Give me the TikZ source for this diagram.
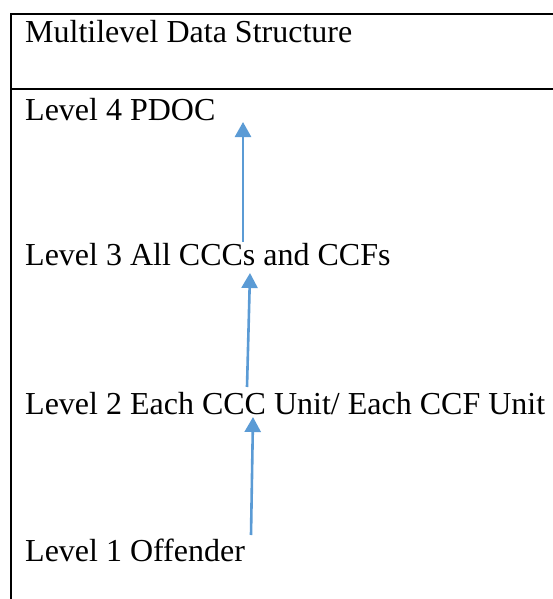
\documentclass[tikz,border=0pt]{standalone}
\usepackage{fontspec}
\setmainfont{Liberation Serif}
\usetikzlibrary{arrows.meta}
\definecolor{arrowblue}{RGB}{91,155,213}
\begin{document}
\begin{tikzpicture}[x=1pt,y=-1pt]
            \tikzstyle{every node}+=[inner sep=0pt, anchor=base west, font=\fontsize{32}{38}\selectfont]
            \tikzstyle{rule}=[black, line width=2.4pt]
            \tikzstyle{up}=[arrowblue, line width=2.6pt, -{Triangle[width=16pt,length=15pt]}]
            \useasboundingbox (0,0) rectangle (553,599);
            % table frame
            \draw [rule] (553,14) -- (11,14) -- (11,599);
            \draw [rule] (11,89) -- (553,89);
            % levels
            \node (title) at (25,43) {Multilevel Data Structure};
            \node (lv4) at (25,121) {Level 4 PDOC};
            \node (lv3) at (25,265) {Level 3 All CCCs and CCFs};
            \node (lv2) at (25,414) {Level 2 Each CCC Unit/ Each CCF Unit};
            \node (lv1) at (25,561) {Level 1 Offender};
            % arrow ends
            \coordinate (a1s) at (243,242);
            \coordinate (a1e) at (243,122);
            \coordinate (a2s) at (247,387);
            \coordinate (a2e) at (250,273);
            \coordinate (a3s) at (251,535);
            \coordinate (a3e) at (253,417);
            \draw [up] (a1s) -- (a1e);
            \draw [up] (a2s) -- (a2e);
            \draw [up] (a3s) -- (a3e);
\end{tikzpicture}
\end{document}
